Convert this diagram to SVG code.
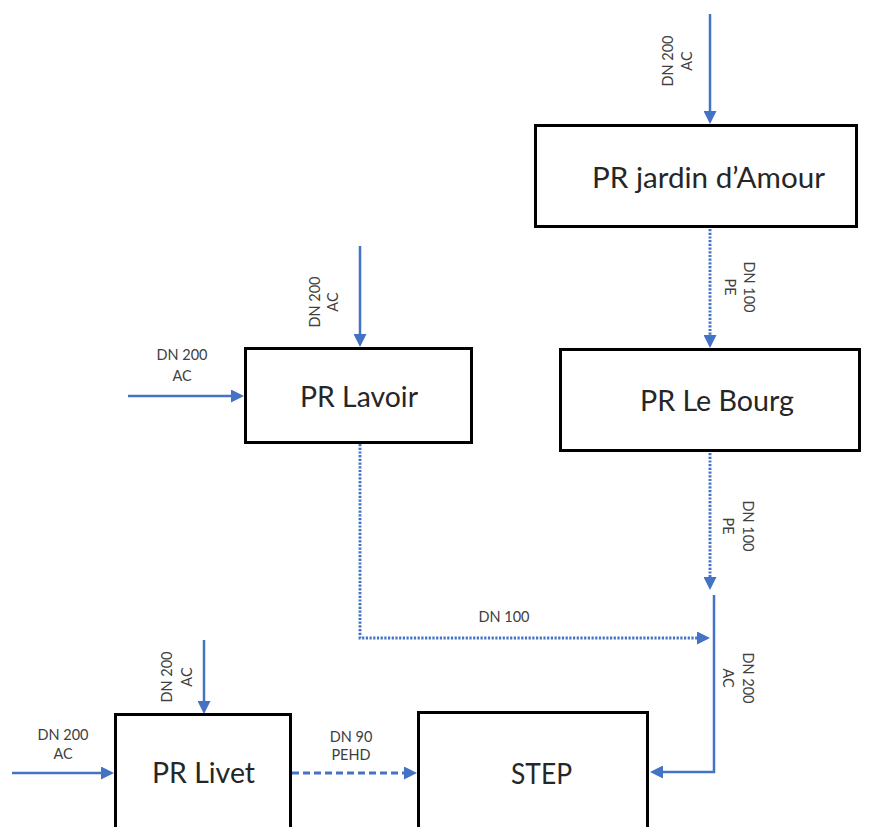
<svg xmlns="http://www.w3.org/2000/svg" width="878" height="827" viewBox="0 0 878 827">
<style>
.box{fill:#fff;stroke:#000;stroke-width:3}
.big{font-family:Lato,"Liberation Sans",sans-serif;font-size:29px;fill:#262626}
.lbl{font-family:Lato,"Liberation Sans",sans-serif;font-size:14.5px;fill:#404040;text-anchor:middle}
.c{fill:none;stroke:#4472C4;stroke-width:2.5;marker-end:url(#ah)}
.dot{stroke-width:2.9;stroke-dasharray:2.2 1.5}
.dash{stroke-width:2.8;stroke-dasharray:7 4}
</style>
<defs>
<marker id="ah" markerUnits="userSpaceOnUse" markerWidth="13" markerHeight="13" viewBox="0 0 13 13" refX="6" refY="6.5" orient="auto">
<path d="M0,0 L13,6.5 L0,13 z" fill="#4472C4"/>
</marker>
</defs>
<rect width="878" height="827" fill="#fff"/>
<g id="connectors">
<path class="c" d="M710,14 V117"/>
<path class="c dot" d="M710,229 V341"/>
<path class="c" d="M360,246 V340"/>
<path class="c" d="M128,396 H237"/>
<path class="c dot" d="M360,444 V638 H703"/>
<path class="c dot" d="M710,453 V583"/>
<path class="c" d="M714,595 V772 H657"/>
<path class="c" d="M204,640 V707"/>
<path class="c" d="M12,773 H107"/>
<path class="c dash" d="M292,773 H410"/>
</g>
<g id="labels">
<g transform="translate(673,61) rotate(-90)"><text class="lbl" y="0">DN 200</text><text class="lbl" y="19">AC</text></g>
<g transform="translate(744,287) rotate(90)"><text class="lbl" y="0">DN 100</text><text class="lbl" y="19">PE</text></g>
<g transform="translate(320,302) rotate(-90)"><text class="lbl" y="0">DN 200</text><text class="lbl" y="18">AC</text></g>
<text class="lbl" x="182" y="360">DN 200</text><text class="lbl" x="182" y="381">AC</text>
<g transform="translate(743,526) rotate(90)"><text class="lbl" y="0">DN 100</text><text class="lbl" y="20">PE</text></g>
<text class="lbl" x="504" y="622">DN 100</text>
<g transform="translate(743,678) rotate(90)"><text class="lbl" y="0">DN 200</text><text class="lbl" y="20">AC</text></g>
<g transform="translate(172,677) rotate(-90)"><text class="lbl" y="0">DN 200</text><text class="lbl" y="19.5">AC</text></g>
<text class="lbl" x="63" y="740">DN 200</text><text class="lbl" x="63" y="759">AC</text>
<text class="lbl" x="351" y="742">DN 90</text><text class="lbl" x="351" y="760">PEHD</text>
</g>
<g id="pr-jardin-amour">
<rect class="box" x="535.5" y="125.5" width="321" height="101"/>
<text class="big" x="592" y="188" textLength="233" lengthAdjust="spacingAndGlyphs">PR jardin d’Amour</text>
</g>
<g id="pr-lavoir">
<rect class="box" x="245.5" y="348.5" width="226" height="94"/>
<text class="big" x="300" y="407" textLength="118" lengthAdjust="spacingAndGlyphs">PR Lavoir</text>
</g>
<g id="pr-le-bourg">
<rect class="box" x="560.5" y="349.5" width="299" height="101"/>
<text class="big" x="640" y="411" textLength="154" lengthAdjust="spacingAndGlyphs">PR Le Bourg</text>
</g>
<g id="pr-livet">
<rect class="box" x="115.5" y="714.5" width="175" height="130"/>
<text class="big" x="152" y="783" textLength="103" lengthAdjust="spacingAndGlyphs">PR Livet</text>
</g>
<g id="step">
<rect class="box" x="418.5" y="712.5" width="229" height="130"/>
<text class="big" x="511" y="784" textLength="61" lengthAdjust="spacingAndGlyphs">STEP</text>
</g>
</svg>
